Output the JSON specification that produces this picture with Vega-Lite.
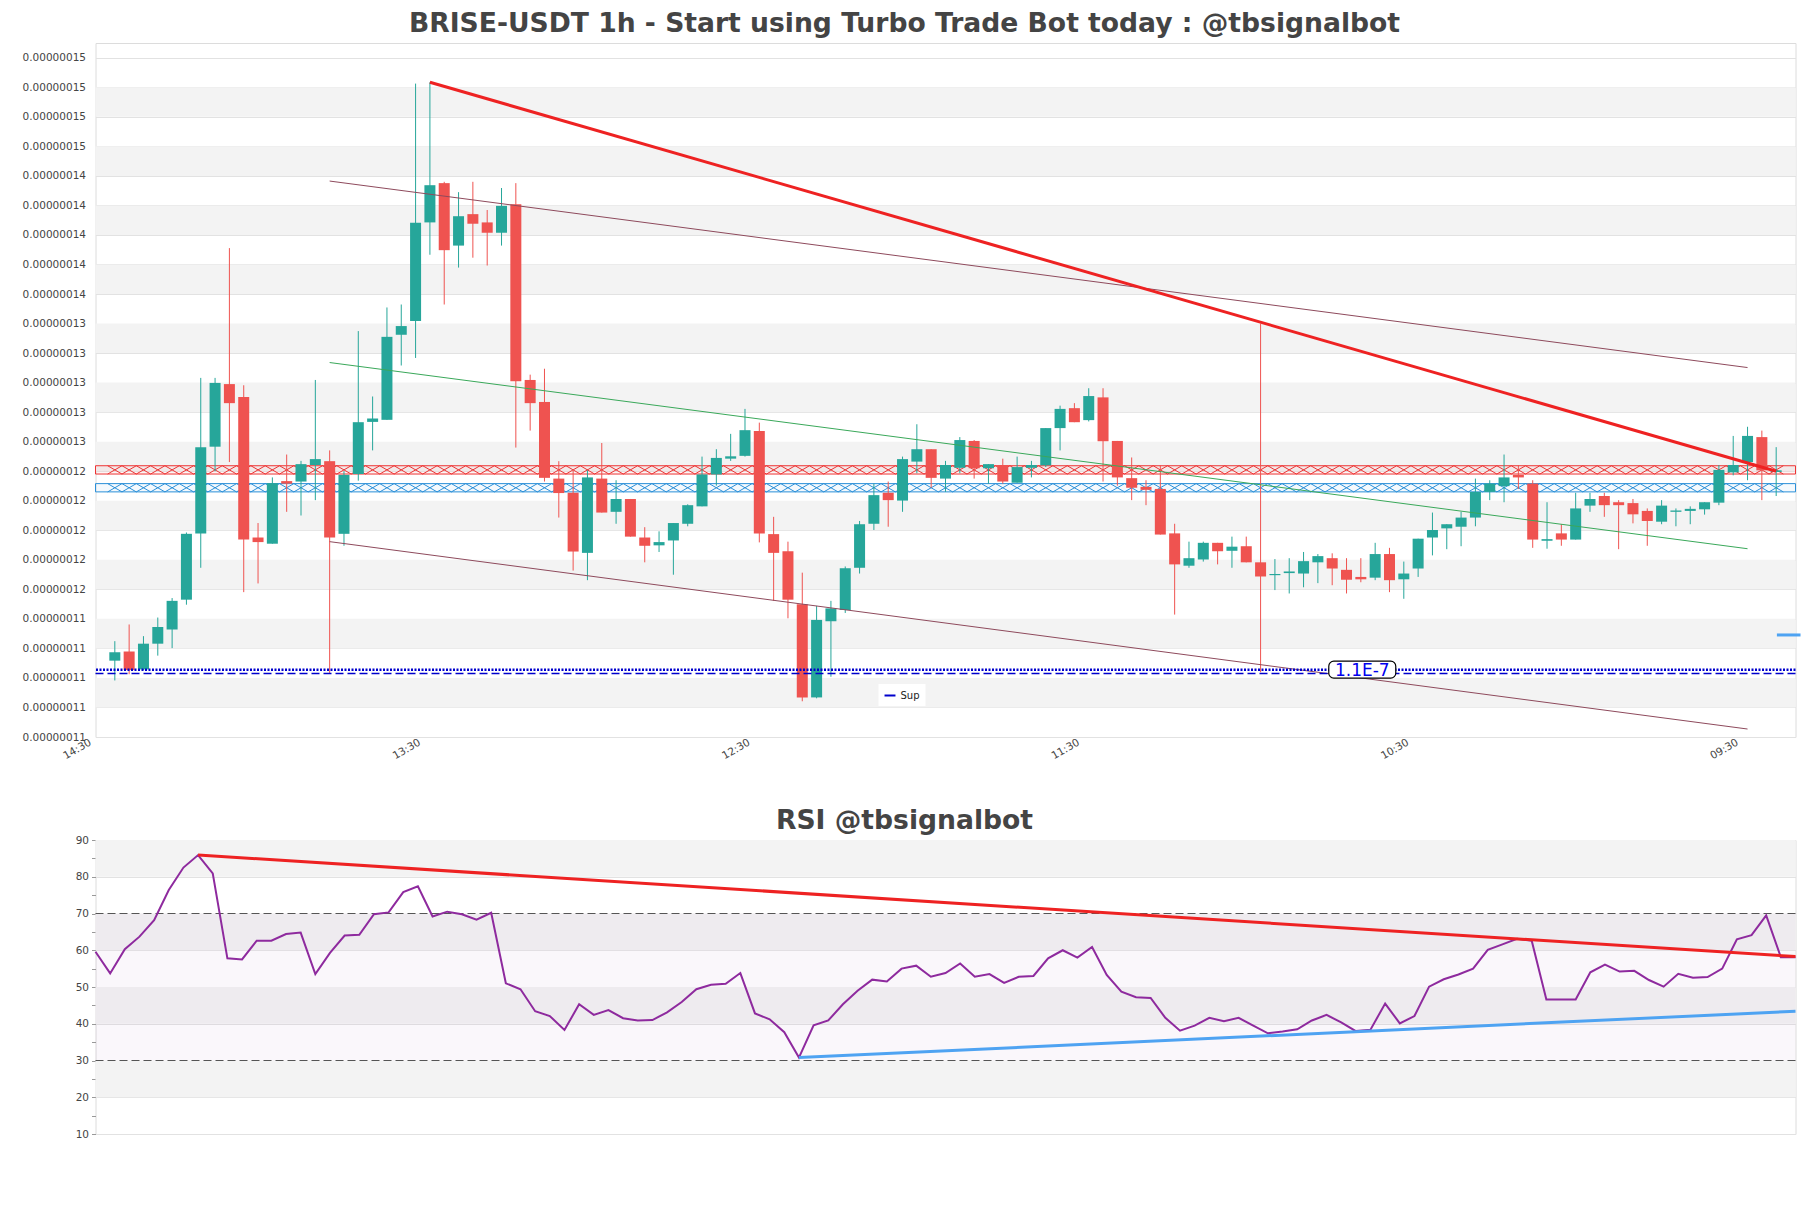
{
  "$schema": "https://vega.github.io/schema/vega-lite/v6.json",
  "background": "white",
  "padding": {"left": 21.5, "top": 10, "right": 10, "bottom": 10},
  "spacing": 45,
  "config": {
    "font": "DejaVu Sans",
    "view": {"stroke": "#dcdcdc", "strokeWidth": 1},
    "title": {"fontSize": 26.6, "fontWeight": "bold", "color": "#444444", "anchor": "middle", "frame": "group", "dx": -41, "offset": 5, "font": "DejaVu Sans"},
    "axis": {"labelColor": "#444444", "labelFontSize": 10.5, "domain": false, "labelFont": "DejaVu Sans", "labelOverlap": false}
  },
  "datasets": {
    "candles": [
      {"i":0,"o":1.1117e-7,"h":1.1249e-7,"l":1.0983e-7,"c":1.1174e-7},
      {"i":1,"o":1.1179e-7,"h":1.1362e-7,"l":1.1025e-7,"c":1.1053e-7},
      {"i":2,"o":1.1058e-7,"h":1.1283e-7,"l":1.1053e-7,"c":1.1232e-7},
      {"i":3,"o":1.1232e-7,"h":1.1409e-7,"l":1.1151e-7,"c":1.1345e-7},
      {"i":4,"o":1.1328e-7,"h":1.1541e-7,"l":1.1202e-7,"c":1.1522e-7},
      {"i":5,"o":1.1530e-7,"h":1.1985e-7,"l":1.1496e-7,"c":1.1976e-7},
      {"i":6,"o":1.1979e-7,"h":1.3032e-7,"l":1.1746e-7,"c":1.2563e-7},
      {"i":7,"o":1.2566e-7,"h":1.3032e-7,"l":1.2400e-7,"c":1.2998e-7},
      {"i":8,"o":1.2990e-7,"h":1.3911e-7,"l":1.2462e-7,"c":1.2861e-7},
      {"i":9,"o":1.2903e-7,"h":1.2982e-7,"l":1.1581e-7,"c":1.1937e-7},
      {"i":10,"o":1.1951e-7,"h":1.2049e-7,"l":1.1640e-7,"c":1.1920e-7},
      {"i":11,"o":1.1909e-7,"h":1.2358e-7,"l":1.1909e-7,"c":1.2319e-7},
      {"i":12,"o":1.2333e-7,"h":1.2513e-7,"l":1.2125e-7,"c":1.2316e-7},
      {"i":13,"o":1.2330e-7,"h":1.2470e-7,"l":1.2100e-7,"c":1.2448e-7},
      {"i":14,"o":1.2442e-7,"h":1.3018e-7,"l":1.2204e-7,"c":1.2482e-7},
      {"i":15,"o":1.2468e-7,"h":1.2541e-7,"l":1.1030e-7,"c":1.1951e-7},
      {"i":16,"o":1.1976e-7,"h":1.2400e-7,"l":1.1895e-7,"c":1.2375e-7},
      {"i":17,"o":1.2381e-7,"h":1.3349e-7,"l":1.2336e-7,"c":1.2732e-7},
      {"i":18,"o":1.2734e-7,"h":1.2906e-7,"l":1.2541e-7,"c":1.2757e-7},
      {"i":19,"o":1.2748e-7,"h":1.3509e-7,"l":1.2748e-7,"c":1.3310e-7},
      {"i":20,"o":1.3324e-7,"h":1.3529e-7,"l":1.3116e-7,"c":1.3383e-7},
      {"i":21,"o":1.3417e-7,"h":1.5025e-7,"l":1.3167e-7,"c":1.4082e-7},
      {"i":22,"o":1.4085e-7,"h":1.5034e-7,"l":1.3866e-7,"c":1.4337e-7},
      {"i":23,"o":1.4351e-7,"h":1.4360e-7,"l":1.3529e-7,"c":1.3897e-7},
      {"i":24,"o":1.3928e-7,"h":1.4290e-7,"l":1.3779e-7,"c":1.4127e-7},
      {"i":25,"o":1.4141e-7,"h":1.4360e-7,"l":1.3846e-7,"c":1.4076e-7},
      {"i":26,"o":1.4085e-7,"h":1.4169e-7,"l":1.3793e-7,"c":1.4015e-7},
      {"i":27,"o":1.4015e-7,"h":1.4318e-7,"l":1.3928e-7,"c":1.4197e-7},
      {"i":28,"o":1.4208e-7,"h":1.4351e-7,"l":1.2560e-7,"c":1.3010e-7},
      {"i":29,"o":1.3018e-7,"h":1.3054e-7,"l":1.2675e-7,"c":1.2861e-7},
      {"i":30,"o":1.2869e-7,"h":1.3094e-7,"l":1.2330e-7,"c":1.2355e-7},
      {"i":31,"o":1.2350e-7,"h":1.2468e-7,"l":1.2086e-7,"c":1.2252e-7},
      {"i":32,"o":1.2254e-7,"h":1.2414e-7,"l":1.1727e-7,"c":1.1856e-7},
      {"i":33,"o":1.1847e-7,"h":1.2406e-7,"l":1.1662e-7,"c":1.2358e-7},
      {"i":34,"o":1.2350e-7,"h":1.2591e-7,"l":1.2120e-7,"c":1.2120e-7},
      {"i":35,"o":1.2125e-7,"h":1.2339e-7,"l":1.2044e-7,"c":1.2212e-7},
      {"i":36,"o":1.2212e-7,"h":1.2212e-7,"l":1.1957e-7,"c":1.1957e-7},
      {"i":37,"o":1.1951e-7,"h":1.2021e-7,"l":1.1783e-7,"c":1.1895e-7},
      {"i":38,"o":1.1898e-7,"h":1.1993e-7,"l":1.1853e-7,"c":1.1920e-7},
      {"i":39,"o":1.1931e-7,"h":1.2049e-7,"l":1.1699e-7,"c":1.2049e-7},
      {"i":40,"o":1.2044e-7,"h":1.2176e-7,"l":1.2027e-7,"c":1.2170e-7},
      {"i":41,"o":1.2162e-7,"h":1.2499e-7,"l":1.2162e-7,"c":1.2378e-7},
      {"i":42,"o":1.2378e-7,"h":1.2549e-7,"l":1.2302e-7,"c":1.2490e-7},
      {"i":43,"o":1.2485e-7,"h":1.2653e-7,"l":1.2470e-7,"c":1.2501e-7},
      {"i":44,"o":1.2504e-7,"h":1.2822e-7,"l":1.2499e-7,"c":1.2678e-7},
      {"i":45,"o":1.2673e-7,"h":1.2729e-7,"l":1.1918e-7,"c":1.1979e-7},
      {"i":46,"o":1.1974e-7,"h":1.2091e-7,"l":1.1522e-7,"c":1.1847e-7},
      {"i":47,"o":1.1858e-7,"h":1.1923e-7,"l":1.1404e-7,"c":1.1530e-7},
      {"i":48,"o":1.1499e-7,"h":1.1713e-7,"l":1.0842e-7,"c":1.0868e-7},
      {"i":49,"o":1.0868e-7,"h":1.1488e-7,"l":1.0862e-7,"c":1.1393e-7},
      {"i":50,"o":1.1384e-7,"h":1.1522e-7,"l":1.1008e-7,"c":1.1471e-7},
      {"i":51,"o":1.1460e-7,"h":1.1755e-7,"l":1.1440e-7,"c":1.1743e-7},
      {"i":52,"o":1.1746e-7,"h":1.2063e-7,"l":1.1707e-7,"c":1.2041e-7},
      {"i":53,"o":1.2044e-7,"h":1.2316e-7,"l":1.2002e-7,"c":1.2238e-7},
      {"i":54,"o":1.2254e-7,"h":1.2330e-7,"l":1.2024e-7,"c":1.2204e-7},
      {"i":55,"o":1.2201e-7,"h":1.2499e-7,"l":1.2125e-7,"c":1.2482e-7},
      {"i":56,"o":1.2465e-7,"h":1.2718e-7,"l":1.2386e-7,"c":1.2549e-7},
      {"i":57,"o":1.2549e-7,"h":1.2549e-7,"l":1.2288e-7,"c":1.2355e-7},
      {"i":58,"o":1.2350e-7,"h":1.2470e-7,"l":1.2260e-7,"c":1.2442e-7},
      {"i":59,"o":1.2423e-7,"h":1.2631e-7,"l":1.2386e-7,"c":1.2611e-7},
      {"i":60,"o":1.2605e-7,"h":1.2611e-7,"l":1.2350e-7,"c":1.2420e-7},
      {"i":61,"o":1.2420e-7,"h":1.2448e-7,"l":1.2316e-7,"c":1.2448e-7},
      {"i":62,"o":1.2442e-7,"h":1.2485e-7,"l":1.2316e-7,"c":1.2330e-7},
      {"i":63,"o":1.2322e-7,"h":1.2499e-7,"l":1.2322e-7,"c":1.2428e-7},
      {"i":64,"o":1.2423e-7,"h":1.2470e-7,"l":1.2358e-7,"c":1.2442e-7},
      {"i":65,"o":1.2440e-7,"h":1.2692e-7,"l":1.2428e-7,"c":1.2692e-7},
      {"i":66,"o":1.2692e-7,"h":1.2844e-7,"l":1.2541e-7,"c":1.2822e-7},
      {"i":67,"o":1.2827e-7,"h":1.2861e-7,"l":1.2732e-7,"c":1.2732e-7},
      {"i":68,"o":1.2746e-7,"h":1.2962e-7,"l":1.2737e-7,"c":1.2909e-7},
      {"i":69,"o":1.2900e-7,"h":1.2962e-7,"l":1.2330e-7,"c":1.2603e-7},
      {"i":70,"o":1.2605e-7,"h":1.2605e-7,"l":1.2302e-7,"c":1.2358e-7},
      {"i":71,"o":1.2353e-7,"h":1.2493e-7,"l":1.2204e-7,"c":1.2288e-7},
      {"i":72,"o":1.2294e-7,"h":1.2339e-7,"l":1.2170e-7,"c":1.2274e-7},
      {"i":73,"o":1.2280e-7,"h":1.2442e-7,"l":1.1971e-7,"c":1.1971e-7},
      {"i":74,"o":1.1979e-7,"h":1.2044e-7,"l":1.1429e-7,"c":1.1769e-7},
      {"i":75,"o":1.1760e-7,"h":1.1923e-7,"l":1.1746e-7,"c":1.1811e-7},
      {"i":76,"o":1.1802e-7,"h":1.1923e-7,"l":1.1788e-7,"c":1.1915e-7},
      {"i":77,"o":1.1915e-7,"h":1.1915e-7,"l":1.1769e-7,"c":1.1858e-7},
      {"i":78,"o":1.1861e-7,"h":1.1957e-7,"l":1.1746e-7,"c":1.1889e-7},
      {"i":79,"o":1.1892e-7,"h":1.1957e-7,"l":1.1783e-7,"c":1.1783e-7},
      {"i":80,"o":1.1783e-7,"h":1.3400e-7,"l":1.1039e-7,"c":1.1687e-7},
      {"i":81,"o":1.1696e-7,"h":1.1805e-7,"l":1.1595e-7,"c":1.1704e-7},
      {"i":82,"o":1.1710e-7,"h":1.1811e-7,"l":1.1572e-7,"c":1.1721e-7},
      {"i":83,"o":1.1707e-7,"h":1.1853e-7,"l":1.1614e-7,"c":1.1791e-7},
      {"i":84,"o":1.1783e-7,"h":1.1839e-7,"l":1.1642e-7,"c":1.1825e-7},
      {"i":85,"o":1.1811e-7,"h":1.1844e-7,"l":1.1628e-7,"c":1.1741e-7},
      {"i":86,"o":1.1732e-7,"h":1.1811e-7,"l":1.1572e-7,"c":1.1665e-7},
      {"i":87,"o":1.1684e-7,"h":1.1811e-7,"l":1.1648e-7,"c":1.1668e-7},
      {"i":88,"o":1.1679e-7,"h":1.1915e-7,"l":1.1662e-7,"c":1.1839e-7},
      {"i":89,"o":1.1839e-7,"h":1.1881e-7,"l":1.1581e-7,"c":1.1662e-7},
      {"i":90,"o":1.1668e-7,"h":1.1788e-7,"l":1.1536e-7,"c":1.1707e-7},
      {"i":91,"o":1.1741e-7,"h":1.1943e-7,"l":1.1684e-7,"c":1.1943e-7},
      {"i":92,"o":1.1951e-7,"h":1.2120e-7,"l":1.1830e-7,"c":1.2002e-7},
      {"i":93,"o":1.2013e-7,"h":1.2041e-7,"l":1.1872e-7,"c":1.2041e-7},
      {"i":94,"o":1.2024e-7,"h":1.2125e-7,"l":1.1892e-7,"c":1.2086e-7},
      {"i":95,"o":1.2086e-7,"h":1.2350e-7,"l":1.2027e-7,"c":1.2260e-7},
      {"i":96,"o":1.2260e-7,"h":1.2339e-7,"l":1.2204e-7,"c":1.2316e-7},
      {"i":97,"o":1.2299e-7,"h":1.2513e-7,"l":1.2190e-7,"c":1.2358e-7},
      {"i":98,"o":1.2375e-7,"h":1.2442e-7,"l":1.2280e-7,"c":1.2358e-7},
      {"i":99,"o":1.2316e-7,"h":1.2339e-7,"l":1.1881e-7,"c":1.1937e-7},
      {"i":100,"o":1.1929e-7,"h":1.2190e-7,"l":1.1875e-7,"c":1.1940e-7},
      {"i":101,"o":1.1979e-7,"h":1.2041e-7,"l":1.1895e-7,"c":1.1937e-7},
      {"i":102,"o":1.1937e-7,"h":1.2254e-7,"l":1.1937e-7,"c":1.2148e-7},
      {"i":103,"o":1.2167e-7,"h":1.2254e-7,"l":1.2125e-7,"c":1.2212e-7},
      {"i":104,"o":1.2232e-7,"h":1.2254e-7,"l":1.2091e-7,"c":1.2170e-7},
      {"i":105,"o":1.2190e-7,"h":1.2204e-7,"l":1.1872e-7,"c":1.2170e-7},
      {"i":106,"o":1.2184e-7,"h":1.2212e-7,"l":1.2047e-7,"c":1.2108e-7},
      {"i":107,"o":1.2131e-7,"h":1.2148e-7,"l":1.1895e-7,"c":1.2063e-7},
      {"i":108,"o":1.2058e-7,"h":1.2204e-7,"l":1.2041e-7,"c":1.2167e-7},
      {"i":109,"o":1.2125e-7,"h":1.2148e-7,"l":1.2027e-7,"c":1.2134e-7},
      {"i":110,"o":1.2131e-7,"h":1.2162e-7,"l":1.2041e-7,"c":1.2145e-7},
      {"i":111,"o":1.2142e-7,"h":1.2190e-7,"l":1.2106e-7,"c":1.2190e-7},
      {"i":112,"o":1.2187e-7,"h":1.2442e-7,"l":1.2170e-7,"c":1.2409e-7},
      {"i":113,"o":1.2392e-7,"h":1.2639e-7,"l":1.2372e-7,"c":1.2442e-7},
      {"i":114,"o":1.2462e-7,"h":1.2701e-7,"l":1.2339e-7,"c":1.2639e-7},
      {"i":115,"o":1.2631e-7,"h":1.2675e-7,"l":1.2204e-7,"c":1.2406e-7},
      {"i":116,"o":1.2395e-7,"h":1.2563e-7,"l":1.2232e-7,"c":1.2406e-7}
    ],
    "bands": [
      {"lo":1.08e-7,"hi":1.10e-7},{"lo":1.12e-7,"hi":1.14e-7},{"lo":1.16e-7,"hi":1.18e-7},
      {"lo":1.20e-7,"hi":1.22e-7},{"lo":1.24e-7,"hi":1.26e-7},{"lo":1.28e-7,"hi":1.30e-7},
      {"lo":1.32e-7,"hi":1.34e-7},{"lo":1.36e-7,"hi":1.38e-7},{"lo":1.40e-7,"hi":1.42e-7},
      {"lo":1.44e-7,"hi":1.46e-7},{"lo":1.48e-7,"hi":1.50e-7}
    ],
    "rsi": [
      {"i":0,"rsi":59.6},{"i":1,"rsi":53.7},{"i":2,"rsi":60.3},{"i":3,"rsi":63.7},{"i":4,"rsi":68.2},
      {"i":5,"rsi":76.4},{"i":6,"rsi":82.5},{"i":7,"rsi":85.9},{"i":8,"rsi":80.9},{"i":9,"rsi":57.8},
      {"i":10,"rsi":57.5},{"i":11,"rsi":62.6},{"i":12,"rsi":62.6},{"i":13,"rsi":64.4},{"i":14,"rsi":64.8},
      {"i":15,"rsi":53.5},{"i":16,"rsi":59.3},{"i":17,"rsi":64.0},{"i":18,"rsi":64.2},{"i":19,"rsi":69.8},
      {"i":20,"rsi":70.3},{"i":21,"rsi":75.8},{"i":22,"rsi":77.4},{"i":23,"rsi":69.2},{"i":24,"rsi":70.5},
      {"i":25,"rsi":69.8},{"i":26,"rsi":68.3},{"i":27,"rsi":70.2},{"i":28,"rsi":51.0},{"i":29,"rsi":49.4},
      {"i":30,"rsi":43.4},{"i":31,"rsi":42.1},{"i":32,"rsi":38.3},{"i":33,"rsi":45.3},{"i":34,"rsi":42.4},
      {"i":35,"rsi":43.7},{"i":36,"rsi":41.5},{"i":37,"rsi":40.9},{"i":38,"rsi":41.0},{"i":39,"rsi":43.1},
      {"i":40,"rsi":45.9},{"i":41,"rsi":49.4},{"i":42,"rsi":50.6},{"i":43,"rsi":50.9},{"i":44,"rsi":53.8},
      {"i":45,"rsi":42.8},{"i":46,"rsi":41.2},{"i":47,"rsi":37.7},{"i":48,"rsi":30.8},{"i":49,"rsi":39.6},
      {"i":50,"rsi":40.9},{"i":51,"rsi":45.3},{"i":52,"rsi":49.0},{"i":53,"rsi":52.0},{"i":54,"rsi":51.5},
      {"i":55,"rsi":55.0},{"i":56,"rsi":55.8},{"i":57,"rsi":52.8},{"i":58,"rsi":53.8},{"i":59,"rsi":56.4},
      {"i":60,"rsi":52.8},{"i":61,"rsi":53.5},{"i":62,"rsi":51.1},{"i":63,"rsi":52.8},{"i":64,"rsi":53.0},
      {"i":65,"rsi":57.8},{"i":66,"rsi":60.0},{"i":67,"rsi":58.0},{"i":68,"rsi":60.9},{"i":69,"rsi":53.3},
      {"i":70,"rsi":48.7},{"i":71,"rsi":47.2},{"i":72,"rsi":47.0},{"i":73,"rsi":41.6},{"i":74,"rsi":38.1},
      {"i":75,"rsi":39.5},{"i":76,"rsi":41.6},{"i":77,"rsi":40.7},{"i":78,"rsi":41.6},{"i":79,"rsi":39.5},
      {"i":80,"rsi":37.4},{"i":81,"rsi":37.9},{"i":82,"rsi":38.5},{"i":83,"rsi":40.9},{"i":84,"rsi":42.4},
      {"i":85,"rsi":40.4},{"i":86,"rsi":38.0},{"i":87,"rsi":38.4},{"i":88,"rsi":45.5},{"i":89,"rsi":40.1},
      {"i":90,"rsi":42.1},{"i":91,"rsi":50.1},{"i":92,"rsi":52.1},{"i":93,"rsi":53.4},{"i":94,"rsi":55.0},
      {"i":95,"rsi":60.1},{"i":96,"rsi":61.6},{"i":97,"rsi":63.1},{"i":98,"rsi":62.6},{"i":99,"rsi":46.6},
      {"i":100,"rsi":46.6},{"i":101,"rsi":46.6},{"i":102,"rsi":54.0},{"i":103,"rsi":56.1},{"i":104,"rsi":54.2},
      {"i":105,"rsi":54.4},{"i":106,"rsi":51.9},{"i":107,"rsi":50.1},{"i":108,"rsi":53.6},{"i":109,"rsi":52.5},
      {"i":110,"rsi":52.7},{"i":111,"rsi":55.0},{"i":112,"rsi":63.0},{"i":113,"rsi":64.1},{"i":114,"rsi":69.5},
      {"i":115,"rsi":58.1},{"i":116,"rsi":58.1}
    ]
  },
  "vconcat": [
    {
      "width": 1700,
      "height": 694,
      "title": "BRISE-USDT 1h - Start using Turbo Trade Bot today : @tbsignalbot",
      "layer": [
        {
          "data": {"name": "bands"},
          "mark": {"type": "rect", "color": "#f3f3f3"},
          "encoding": {
            "y": {"field": "lo", "type": "quantitative",
              "scale": {"domain": [1.06e-7, 1.53e-7], "nice": false, "zero": false},
              "axis": {"values": [1.06e-7,1.08e-7,1.1e-7,1.12e-7,1.14e-7,1.16e-7,1.18e-7,1.2e-7,1.22e-7,1.24e-7,1.26e-7,1.28e-7,1.3e-7,1.32e-7,1.34e-7,1.36e-7,1.38e-7,1.4e-7,1.42e-7,1.44e-7,1.46e-7,1.48e-7,1.5e-7,1.52e-7],
                "tickCount": 100, "format": ".8f", "ticks": false, "tickSize": 0, "labelPadding": 10, "grid": true, "gridColor": "#e2e2e2", "title": null, "labelOverlap": false}},
            "y2": {"field": "hi"}
          }
        },
        {
          "data": {"values": [{"zone": "resistance", "lo": 1.2381e-7, "hi": 1.2437e-7}]},
          "mark": {"type": "rect", "fill": "#ee2222", "fillOpacity": 0.05, "stroke": "#ee3333", "strokeWidth": 1},
          "encoding": {"y": {"field": "lo", "type": "quantitative"}, "y2": {"field": "hi"}}
        },
        {
          "data": {"values": [{"zone": "support", "lo": 1.2260e-7, "hi": 1.2316e-7}]},
          "mark": {"type": "rect", "fill": "#2a8fd8", "fillOpacity": 0.05, "stroke": "#2a8fd8", "strokeWidth": 1},
          "encoding": {"y": {"field": "lo", "type": "quantitative"}, "y2": {"field": "hi"}}
        },
        {
          "data": {"name": "candles"},
          "mark": {"type": "point", "shape": "M-1,-0.58L1,0.58M-1,0.58L1,-0.58", "size": 207, "filled": false, "stroke": "#ee3333", "strokeWidth": 1, "opacity": 1},
          "encoding": {"x": {"field": "i", "type": "quantitative"}, "y": {"datum": 1.2409e-7, "type": "quantitative"}}
        },
        {
          "data": {"name": "candles"},
          "mark": {"type": "point", "shape": "M-1,-0.58L1,0.58M-1,0.58L1,-0.58", "size": 207, "filled": false, "stroke": "#2a8fd8", "strokeWidth": 1, "opacity": 1},
          "encoding": {"x": {"field": "i", "type": "quantitative"}, "y": {"datum": 1.2288e-7, "type": "quantitative"}}
        },
        {
          "data": {"name": "candles"},
          "mark": {"type": "rule", "strokeWidth": 1},
          "encoding": {
            "x": {"field": "i", "type": "quantitative",
              "scale": {"domain": [-1, 117], "nice": false, "zero": false},
              "axis": {"values": [-1, 22, 45, 68, 91, 114], "tickCount": 100, "labelExpr": "pad(toString((15 + datum.value) % 24), 2, '0', 'left') + ':30'",
                "labelAngle": -30, "labelAlign": "right", "labelBaseline": "top", "labelOffset": -13, "ticks": false, "grid": false, "title": null, "labelPadding": 0}},
            "y": {"field": "l", "type": "quantitative"},
            "y2": {"field": "h"},
            "color": {"condition": {"test": "datum.c >= datum.o", "value": "#26a69a"}, "value": "#ef5350"}
          }
        },
        {
          "data": {"name": "candles"},
          "mark": {"type": "bar", "width": 11},
          "encoding": {
            "x": {"field": "i", "type": "quantitative"},
            "y": {"field": "o", "type": "quantitative"},
            "y2": {"field": "c"},
            "color": {"condition": {"test": "datum.c >= datum.o", "value": "#26a69a"}, "value": "#ef5350"}
          }
        },
        {
          "data": {"values": [{"line": "upper", "i": 15, "v": 1.4365e-7}, {"line": "upper", "i": 114, "v": 1.3102e-7}, {"line": "lower", "i": 15, "v": 1.1923e-7}, {"line": "lower", "i": 114, "v": 1.0654e-7}]},
          "mark": {"type": "line", "color": "#8e4a5c", "strokeWidth": 1},
          "encoding": {"x": {"field": "i", "type": "quantitative"}, "y": {"field": "v", "type": "quantitative"}, "detail": {"field": "line"}}
        },
        {
          "data": {"values": [{"i": 15, "v": 1.3136e-7}, {"i": 114, "v": 1.1875e-7}]},
          "mark": {"type": "line", "color": "#3aa85a", "strokeWidth": 1},
          "encoding": {"x": {"field": "i", "type": "quantitative"}, "y": {"field": "v", "type": "quantitative"}}
        },
        {
          "data": {"values": [{"i": 22, "v": 1.5034e-7}, {"i": 116, "v": 1.2400e-7}]},
          "mark": {"type": "line", "color": "#ee2222", "strokeWidth": 3},
          "encoding": {"x": {"field": "i", "type": "quantitative"}, "y": {"field": "v", "type": "quantitative"}}
        },
        {
          "data": {"values": [{"name": "Sup", "v": 1.1056e-7}]},
          "mark": {"type": "rule", "color": "#0000cc", "strokeDash": [2, 1.5], "strokeWidth": 2.5},
          "encoding": {"y": {"field": "v", "type": "quantitative"}}
        },
        {
          "data": {"values": [{"name": "Sup", "v": 1.1030e-7}]},
          "mark": {"type": "rule", "strokeDash": [8, 4], "strokeWidth": 1.5},
          "encoding": {
            "y": {"field": "v", "type": "quantitative"},
            "color": {"field": "name", "type": "nominal", "scale": {"range": ["#0000cc"]},
              "legend": {"title": null, "orient": "none", "legendX": 783, "legendY": 641, "fillColor": "white", "padding": 5, "symbolType": "stroke", "symbolStrokeWidth": 2, "symbolSize": 120, "labelFontSize": 10, "labelColor": "#222222"}}
          }
        },
        {
          "data": {"values": [{"i": 87.1, "v": 1.1056e-7, "label": "1.1E-7"}]},
          "mark": {"type": "point", "shape": "M-3.35,-1H3.35A0.59,0.59 0 0 1 3.94,-0.41V0.41A0.59,0.59 0 0 1 3.35,1H-3.35A0.59,0.59 0 0 1 -3.94,0.41V-0.41A0.59,0.59 0 0 1 -3.35,-1Z", "size": 289, "filled": true, "fill": "white", "stroke": "#000000", "strokeWidth": 1.2, "opacity": 1},
          "encoding": {"x": {"field": "i", "type": "quantitative"}, "y": {"field": "v", "type": "quantitative"}}
        },
        {
          "data": {"values": [{"i": 87.1, "v": 1.1056e-7, "label": "1.1E-7"}]},
          "mark": {"type": "text", "color": "#0000ee", "fontSize": 17, "align": "center", "baseline": "middle", "dy": 1},
          "encoding": {"x": {"field": "i", "type": "quantitative"}, "y": {"field": "v", "type": "quantitative"}, "text": {"field": "label"}}
        },
        {
          "data": {"values": [{"i": 116.05, "v": 1.1291e-7}, {"i": 117.7, "v": 1.1291e-7}]},
          "mark": {"type": "line", "color": "#4ea3f2", "strokeWidth": 3, "clip": false},
          "encoding": {"x": {"field": "i", "type": "quantitative"}, "y": {"field": "v", "type": "quantitative"}}
        }
      ]
    },
    {
      "width": 1700,
      "height": 294,
      "title": {"text": "RSI @tbsignalbot", "offset": 0},
      "layer": [
        {
          "data": {"values": [{"lo": 80, "hi": 90}, {"lo": 60, "hi": 70}, {"lo": 40, "hi": 50}, {"lo": 20, "hi": 30}]},
          "mark": {"type": "rect", "color": "#f3f3f3"},
          "encoding": {
            "y": {"field": "lo", "type": "quantitative",
              "scale": {"domain": [10, 90], "nice": false, "zero": false},
              "axis": {"values": [10,15,20,25,30,35,40,45,50,55,60,65,70,75,80,85,90], "tickCount": 100,
                "labelExpr": "datum.value % 10 == 0 ? datum.label : ''",
                "ticks": true, "tickSize": 4, "tickColor": "#999999", "labelPadding": 3, "grid": true,
                "gridColor": {"condition": {"test": "datum.value % 10 == 0", "value": "#e2e2e2"}, "value": "transparent"},
                "title": null, "labelOverlap": false}},
            "y2": {"field": "hi"}
          }
        },
        {
          "data": {"values": [{"lo": 30, "hi": 70}]},
          "mark": {"type": "rect", "color": "#9a5aa8", "opacity": 0.05},
          "encoding": {"y": {"field": "lo", "type": "quantitative"}, "y2": {"field": "hi"}}
        },
        {
          "data": {"values": [{"v": 70}, {"v": 30}]},
          "mark": {"type": "rule", "color": "#555555", "strokeDash": [8, 4], "strokeWidth": 1.2},
          "encoding": {"y": {"field": "v", "type": "quantitative"}}
        },
        {
          "data": {"name": "rsi"},
          "mark": {"type": "line", "color": "#8e2a9e", "strokeWidth": 2},
          "encoding": {
            "x": {"field": "i", "type": "quantitative", "scale": {"domain": [0, 116], "nice": false, "zero": false}, "axis": null},
            "y": {"field": "rsi", "type": "quantitative"}
          }
        },
        {
          "data": {"values": [{"i": 7, "rsi": 85.9}, {"i": 116, "rsi": 58.3}]},
          "mark": {"type": "line", "color": "#ee2222", "strokeWidth": 3},
          "encoding": {"x": {"field": "i", "type": "quantitative"}, "y": {"field": "rsi", "type": "quantitative"}}
        },
        {
          "data": {"values": [{"i": 48, "rsi": 30.8}, {"i": 116, "rsi": 43.4}]},
          "mark": {"type": "line", "color": "#4ea3f2", "strokeWidth": 3},
          "encoding": {"x": {"field": "i", "type": "quantitative"}, "y": {"field": "rsi", "type": "quantitative"}}
        }
      ]
    }
  ]
}
